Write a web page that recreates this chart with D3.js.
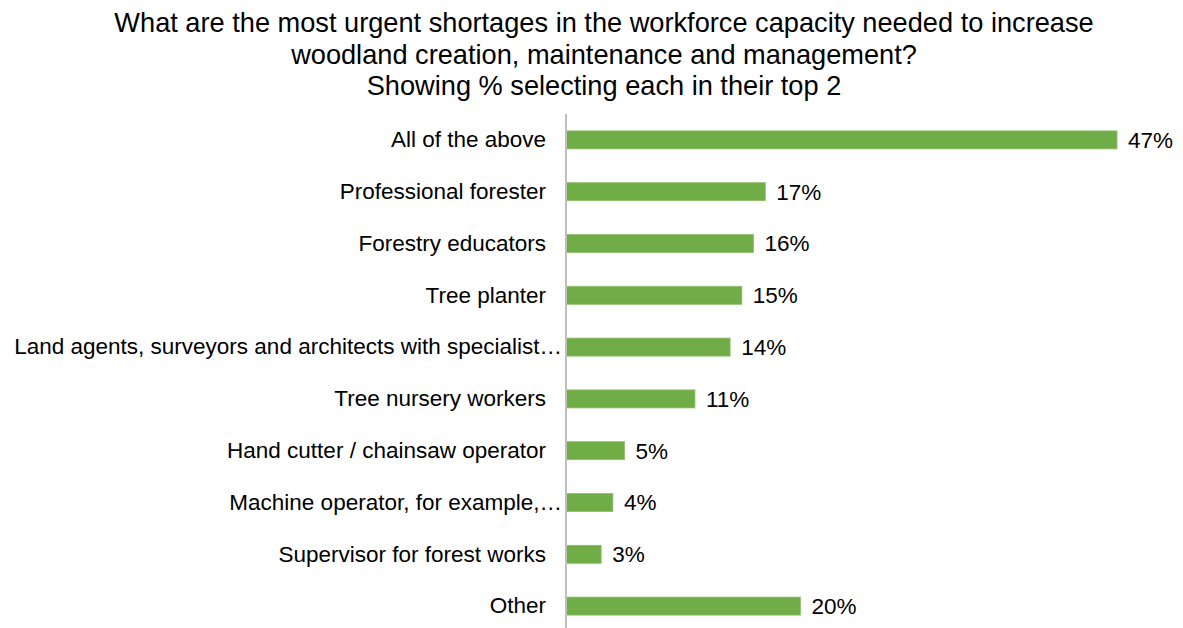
<!DOCTYPE html>
<html>
<head>
<meta charset="utf-8">
<script src="https://cdn.jsdelivr.net/npm/d3@7"></script>
<style>
  html, body { margin: 0; padding: 0; background: #fff; }
  svg { display: block; font-family: "Liberation Sans", Arial, sans-serif; }
</style>
</head>
<body>
<svg id="chart" width="1183" height="628"></svg>
<script>
// Survey answers: share of respondents picking each shortage in their top 2
const categories = [
  "All of the above",
  "Professional forester",
  "Forestry educators",
  "Tree planter",
  "Land agents, surveyors and architects with specialist…",
  "Tree nursery workers",
  "Hand cutter / chainsaw operator",
  "Machine operator, for example,…",
  "Supervisor for forest works",
  "Other"
];
const values = [47, 17, 16, 15, 14, 11, 5, 4, 3, 20];
const titleLines = [
  "What are the most urgent shortages in the workforce capacity needed to increase",
  "woodland creation, maintenance and management?",
  "Showing % selecting each in their top 2"
];

const svg = d3.select("#chart");
const axisX = 566;

const x = d3.scaleLinear().domain([0, 47]).range([axisX, 1117]);
const y = d3.scaleBand().domain(categories).range([114, 632]).paddingInner(0.652).paddingOuter(0.326);

// Title
svg.append("g").selectAll("text").data(titleLines).join("text")
  .attr("x", 604)
  .attr("y", (d, i) => 32 + i * 31.5)
  .attr("text-anchor", "middle")
  .attr("font-size", 27.2)
  .attr("fill", "#000")
  .text(d => d);

// Bars
svg.append("g").selectAll("rect").data(values).join("rect")
  .attr("x", x(0))
  .attr("y", (d, i) => y(categories[i]))
  .attr("width", d => x(d) - x(0))
  .attr("height", y.bandwidth())
  .attr("fill", "#70AD47")
  .attr("stroke", "#8fc06c")
  .attr("stroke-width", 0.8);

// Category axis; truncated labels run closer to the axis line
const yAxis = d3.axisLeft(y).tickSize(0).tickPadding(20);
const gAxis = svg.append("g").attr("transform", `translate(${axisX},0)`).call(yAxis);
gAxis.select(".domain").remove();
gAxis.selectAll("text")
  .attr("font-size", 22.5)
  .attr("font-family", "Liberation Sans, Arial, sans-serif")
  .attr("fill", "#000")
  .attr("x", d => d.endsWith("…") ? -4 : -20);

svg.append("line")
  .attr("x1", axisX).attr("x2", axisX)
  .attr("y1", 114).attr("y2", 628)
  .attr("stroke", "#bfbfbf").attr("stroke-width", 2);

// Value labels
svg.append("g").selectAll("text").data(values).join("text")
  .attr("x", d => x(d) + 11)
  .attr("y", (d, i) => y(categories[i]) + y.bandwidth() / 2)
  .attr("dy", "0.35em")
  .attr("font-size", 22.5)
  .attr("fill", "#000")
  .text(d => d + "%");
</script>
</body>
</html>
